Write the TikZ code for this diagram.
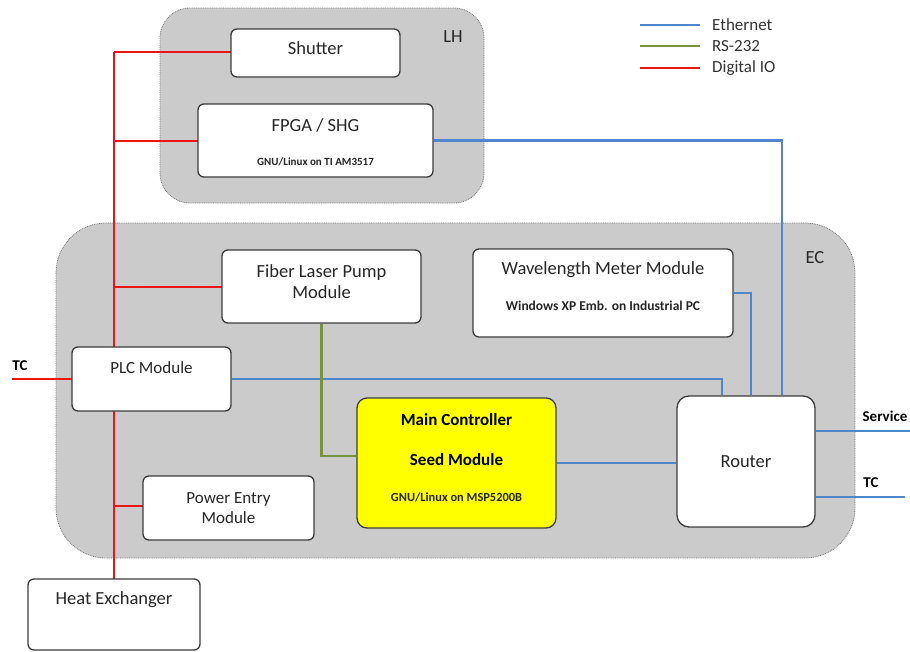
\documentclass[tikz,border=0pt]{standalone}
\usepackage{fontspec}
\setmainfont{Carlito}
\definecolor{grpfill}{RGB}{203,203,203}
\definecolor{grpline}{RGB}{110,110,110}
\definecolor{boxline}{RGB}{60,60,60}
\definecolor{eth}{RGB}{79,134,206}
\definecolor{rs}{RGB}{119,147,60}
\definecolor{dio}{RGB}{236,20,20}
\definecolor{mcy}{RGB}{255,255,0}
\begin{document}
\begin{tikzpicture}[x=1pt,y=-1pt,
  grp/.style={draw=grpline, densely dotted, fill=grpfill, line width=0.8pt},
  box/.style={draw=boxline, fill=white, rounded corners=6pt, line width=1.3pt, inner sep=0pt},
  lbl/.style={inner sep=0pt, font=\fontsize{18.5}{21}\selectfont, text=black!85},
  lblb/.style={inner sep=0pt, font=\fontsize{17}{20}\selectfont, text=black!85},
  sml/.style={inner sep=0pt, font=\fontsize{11}{13}\selectfont\bfseries, text=black!85},
  bld/.style={inner sep=0pt, font=\fontsize{17}{20}\selectfont\bfseries, text=black},
  outl/.style={inner sep=0pt, font=\fontsize{15}{17}\selectfont\bfseries, text=black},
  legl/.style={inner sep=0pt, anchor=west, font=\fontsize{17}{19}\selectfont, text=black!80},
  ethline/.style={draw=eth, line width=2.5pt},
  rsline/.style={draw=rs, line width=2.5pt},
  dioline/.style={draw=dio, line width=2.8pt},
]
\useasboundingbox (0,0) rectangle (910,651);
% groups
\draw[grp, rounded corners=30pt] (160,8) rectangle (484,203);
\draw[grp, rounded corners=50pt] (56,223) rectangle (855,558);
\node[lbl] (lhlbl) at (453,37) {LH};
\node[lbl] (eclbl) at (815,258) {EC};

% coordinates for free ends
\coordinate (tcl) at (12,379);
\coordinate (svc) at (910,431);
\coordinate (tcr) at (905,497);
\coordinate (bus) at (114,52);

% red bus (drawn first, boxes cover it)
\draw[dioline] (bus) -- (114,579);
\draw[dioline] (bus) -- (231,52);
\draw[dioline] (114,141) -- (198,141);
\draw[dioline] (114,287) -- (222,287);
\draw[dioline] (114,506) -- (143,506);
\draw[dioline] (tcl) -- (72,379);

% boxes
\node[box, minimum width=169pt, minimum height=48pt] (shutter) at (315.5,53) {};
\node[box, minimum width=235pt, minimum height=73pt] (fpga) at (315.5,140.5) {};
\node[box, minimum width=199pt, minimum height=73pt] (fiber) at (321.5,286.5) {};
\node[box, minimum width=260pt, minimum height=88pt] (wave) at (603,293) {};
\node[box, minimum width=159pt, minimum height=64pt] (plc) at (151.5,379) {};
\node[box, fill=mcy, rounded corners=10pt, minimum width=199pt, minimum height=130pt] (main) at (456.5,463) {};
\node[box, rounded corners=12pt, minimum width=138pt, minimum height=131pt] (router) at (746,461.5) {};
\node[box, minimum width=171pt, minimum height=64pt] (power) at (228.5,508) {};
\node[box, minimum width=172pt, minimum height=71pt] (heat) at (114,614.5) {};

% texts
\node[lbl] (tshutter) at (315.5,48) {Shutter};
\node[lbl] (tfpga) at (315.5,125) {FPGA / SHG};
\node[sml] (tfpga2) at (315.5,162) {GNU/Linux on TI AM3517};
\node[lbl, align=center] (tfiber) at (321.5,282) {Fiber Laser Pump\\Module};
\node[lbl] (twave) at (603,270) {Wavelength Meter Module};
\node[sml, font=\fontsize{13.5}{15}\selectfont\bfseries] (twave2) at (603,306) {Windows XP Emb. on Industrial PC};
\node[lblb] (tplc) at (151.5,368) {PLC Module};
\node[bld] (tmain1) at (456.5,420) {Main Controller};
\node[bld] (tmain2) at (456.5,460) {Seed Module};
\node[sml, font=\fontsize{12.4}{14}\selectfont\bfseries] (tmain3) at (456.5,497) {GNU/Linux on MSP5200B};
\node[lbl] (trouter) at (746,462) {Router};
\node[lblb, align=center] (tpower) at (228.5,508) {Power Entry\\Module};
\node[lbl] (theat) at (114,600) {Heat Exchanger};

% ethernet
\draw[ethline] (fpga.east) -| ([xshift=36pt]router.north);
\draw[ethline] (wave.east) -| ([xshift=5pt]router.north);
\draw[ethline] (plc.east) -| ([xshift=-24pt]router.north);
\draw[ethline] (main.east) -- (main.east -| router.west);
\draw[ethline] ([yshift=30.5pt]router.east) -- (svc);
\draw[ethline] ([yshift=-35.5pt]router.east) -- (tcr);
% rs-232
\draw[rsline] (fiber.south) |- ([yshift=7pt]main.west);

% outer labels
\node[outl] (ltcl) at (20,366) {TC};
\node[outl] (lsvc) at (885,416) {Service};
\node[outl] (ltcr) at (871,483) {TC};

% legend
\coordinate (le1) at (640,25); \coordinate (le2) at (700,25);
\coordinate (lr1) at (640,46); \coordinate (lr2) at (700,46);
\coordinate (ld1) at (640,68); \coordinate (ld2) at (700,68);
\draw[ethline] (le1) -- (le2);
\draw[rsline] (lr1) -- (lr2);
\draw[dioline] (ld1) -- (ld2);
\node[legl] (leth) at (712,25) {Ethernet};
\node[legl] (lrs) at (712,46) {RS-232};
\node[legl] (ldio) at (712,68) {Digital IO};
\end{tikzpicture}
\end{document}
